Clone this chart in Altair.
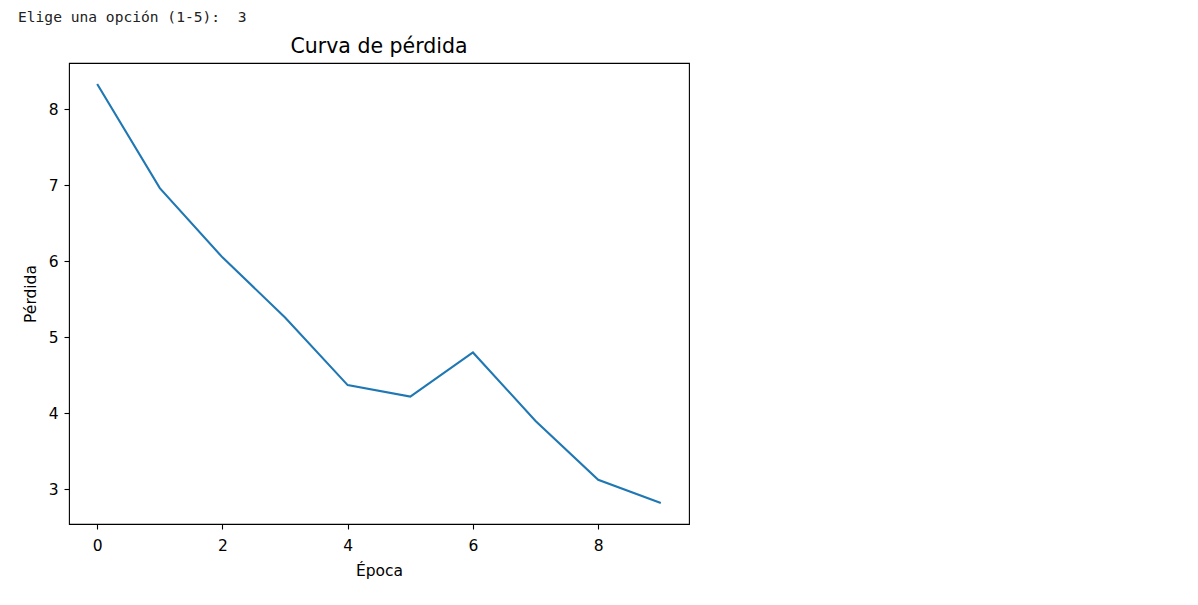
import altair as alt
import pandas as pd

epochs = [0, 1, 2, 3, 4, 5, 6, 7, 8, 9]
losses = [8.33, 6.96, 6.05, 5.26, 4.37, 4.22, 4.80, 3.90, 3.125, 2.82]
x_ticks = [0, 2, 4, 6, 8]
y_ticks = [3, 4, 5, 6, 7, 8]
prompt_text = ["Elige una opción (1-5):\u00a0\u00a03"]
title_text = ["Curva de pérdida"]

df = pd.DataFrame({"Época": epochs, "Pérdida": losses})
df_prompt = pd.DataFrame({"t": prompt_text})
df_title = pd.DataFrame({"t": title_text})

line = alt.Chart(df).mark_line(color="#1f77b4", strokeWidth=2.1).encode(
    x=alt.X("Época:Q",
            scale=alt.Scale(domain=[-0.45, 9.45], nice=False, zero=False),
            axis=alt.Axis(values=x_ticks, title="Época", format="d")),
    y=alt.Y("Pérdida:Q",
            scale=alt.Scale(domain=[2.5445, 8.6055], nice=False, zero=False),
            axis=alt.Axis(values=y_ticks, title="Pérdida", format="d")),
)

prompt = alt.Chart(df_prompt).mark_text(
    align="left", baseline="alphabetic", font="DejaVu Sans Mono",
    fontSize=14.6, color="#222222"
).encode(x=alt.value(-51), y=alt.value(-41), text="t:N")

title = alt.Chart(df_title).mark_text(
    align="center", baseline="alphabetic", font="DejaVu Sans",
    fontSize=20.5, color="#000000"
).encode(x=alt.value(310), y=alt.value(-10), text="t:N")

chart = alt.layer(line, prompt, title).properties(
    width=620, height=461,
    autosize=alt.AutoSizeParams(type="none"),
    padding={"left": 61, "top": 55, "right": 20, "bottom": 70},
).configure_view(
    stroke="#000000", strokeWidth=1.1
).configure_axis(
    grid=False, domain=False,
    tickColor="#000000", tickSize=5, tickWidth=1.1,
    labelFont="DejaVu Sans", labelFontSize=15.5, labelColor="#000000",
    titleFont="DejaVu Sans", titleFontSize=15.5, titleFontWeight="normal",
    titleColor="#000000",
).configure_axisX(labelPadding=9, titlePadding=10).configure_axisY(labelPadding=6, titlePadding=10)

chart.save("out.html", embed_options={"renderer": "svg", "actions": False})
